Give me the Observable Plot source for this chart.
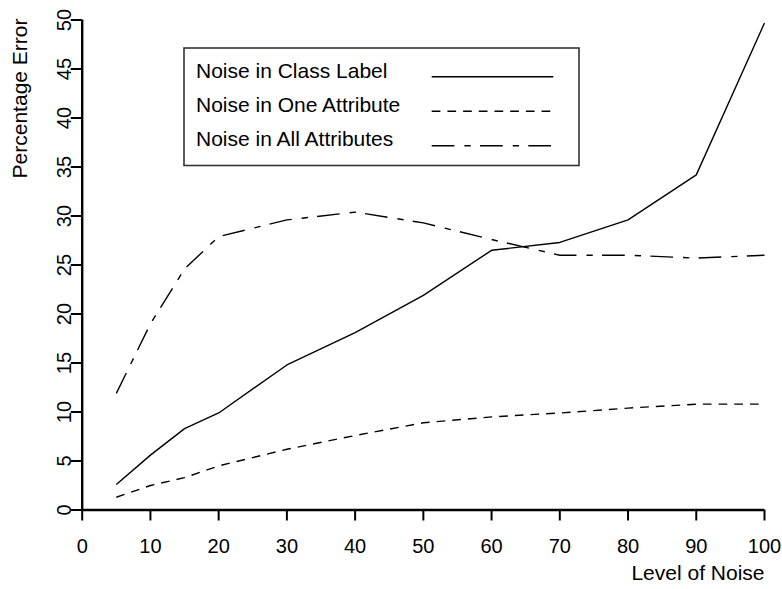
<!DOCTYPE html>
<html>
<head>
<meta charset="utf-8">
<script src="https://cdn.jsdelivr.net/npm/d3@7"></script>
<script src="https://cdn.jsdelivr.net/npm/@observablehq/plot@0.6"></script>
<style>
  body { margin: 0; background: #fff; }
  #wrap { position: relative; width: 782px; height: 589px; font-family: "Liberation Sans", Arial, Helvetica, sans-serif; }
  #legend { position: absolute; left: 183px; top: 47px; }
</style>
</head>
<body>
<div id="wrap"></div>
<script>
// ---- data ----
const noiseLevels = [5, 10, 15, 20, 30, 40, 50, 60, 70, 80, 90, 100];
const classLabelError = [2.6, 5.6, 8.3, 9.9, 14.8, 18.1, 21.9, 26.5, 27.3, 29.6, 34.2, 49.7];
const oneAttributeError = [1.3, 2.5, 3.3, 4.5, 6.2, 7.6, 8.9, 9.5, 9.9, 10.4, 10.8, 10.8];
const allAttributesError = [11.9, 19.0, 24.6, 27.9, 29.6, 30.4, 29.3, 27.6, 26.0, 26.0, 25.7, 26.0];
const seriesNames = ["Noise in Class Label", "Noise in One Attribute", "Noise in All Attributes"];
const xTicks = [0, 10, 20, 30, 40, 50, 60, 70, 80, 90, 100];
const yTicks = [0, 5, 10, 15, 20, 25, 30, 35, 40, 45, 50];
const xLabel = "Level of Noise";
const yLabel = "Percentage Error";

const seriesValues = [classLabelError, oneAttributeError, allAttributesError];
const dashes = [null, "8.7,7", "22.7,10,6.3,9.3"];
const rows = seriesNames.map((name, i) =>
  noiseLevels.map((level, j) => ({series: name, level, error: seriesValues[i][j]})));

const font = '"Liberation Sans", Arial, Helvetica, sans-serif';

const chart = Plot.plot({
  width: 782,
  height: 589,
  marginLeft: 81.7,
  marginRight: 18,
  marginTop: 19.5,
  marginBottom: 79.5,
  style: {fontFamily: font, fontSize: "20px", background: "white", color: "black"},
  x: {domain: [0, 100]},
  y: {domain: [0, 50]},
  marks: [
    Plot.axisX({ticks: xTicks, tickSize: 11, tickPadding: 18, strokeWidth: 2, fontSize: 20, label: null}),
    Plot.axisY({ticks: yTicks, tickSize: 11, tickPadding: 0, tickRotate: -90, strokeWidth: 2, fontSize: 20, label: null}),
    Plot.ruleY([0], {strokeWidth: 2.4}),
    Plot.ruleX([0], {strokeWidth: 2.4}),
    Plot.text([xLabel], {frameAnchor: "bottom-right", text: d => d, textAnchor: "end", lineAnchor: "bottom", dy: 69.5, fontSize: 21}),
    Plot.text([yLabel], {frameAnchor: "top-left", text: d => d, rotate: -90, textAnchor: "end", lineAnchor: "bottom", dx: -55, dy: -1.5, fontSize: 21}),
    ...rows.map((data, i) => Plot.line(data, {
      x: "level", y: "error", stroke: "black", strokeWidth: 1.4,
      strokeDasharray: dashes[i], strokeLinecap: "butt", strokeLinejoin: "miter"
    }))
  ]
});
document.getElementById("wrap").appendChild(chart);

// ---- legend box ----
const leg = d3.select("#wrap").append("svg").attr("id", "legend")
  .attr("width", 400).attr("height", 122);
leg.append("rect").attr("x", 1).attr("y", 1).attr("width", 395).attr("height", 117.5)
  .attr("fill", "white").attr("stroke", "#333").attr("stroke-width", 1.6);
seriesNames.forEach((name, i) => {
  leg.append("text").attr("x", 13).attr("y", 30.7 + i * 34)
    .attr("font-family", font).attr("font-size", 21).attr("fill", "black").text(name);
  leg.append("line").attr("x1", 248.7).attr("x2", 370.3)
    .attr("y1", 29.7 + i * 34.5).attr("y2", 29.7 + i * 34.5)
    .attr("stroke", "black").attr("stroke-width", 1.4)
    .attr("stroke-dasharray", dashes[i]);
});
</script>
</body>
</html>
